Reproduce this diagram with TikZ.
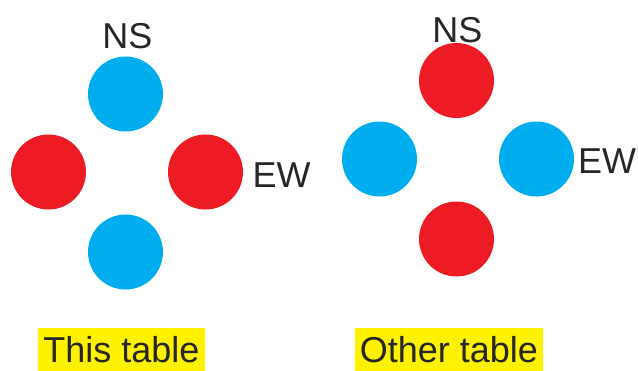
\documentclass[tikz,border=0pt]{standalone}
\usepackage{fontspec}
\setmainfont{Liberation Sans}
\usepackage{tikz}
\definecolor{dotred}{HTML}{ED1C24}
\definecolor{dotblue}{HTML}{00AEEF}
\definecolor{tagyellow}{HTML}{FFF200}
\tikzset{
  seat/.style={circle, inner sep=0pt, minimum size=75pt},
  lbl/.style={inner sep=0pt, anchor=base, text=black!85, font=\fontsize{36}{40}\selectfont},
  tag/.style={lbl, fill=tagyellow, inner xsep=5pt, inner ysep=8.5pt, text height=26pt, text depth=0pt}
}

\begin{document}
\begin{tikzpicture}[x=1pt, y=-1pt]
\useasboundingbox (0,0) rectangle (638,370);
% this table
\node[seat, fill=dotblue] (n1) at (125.5,94) {};
\node[seat, fill=dotred]  (w1) at (48.5,172) {};
\node[seat, fill=dotred]  (e1) at (205.5,172) {};
\node[seat, fill=dotblue] (s1) at (125.5,252) {};
\node[lbl] (ns1) at (127.5,48) {NS};
\node[lbl] (ew1) at (281.5,187) {EW};
\node[tag] (this) at (121.5,362) {This table};
% other table
\node[seat, fill=dotred]  (n2) at (456.5,80.5) {};
\node[seat, fill=dotblue] (w2) at (379.5,159) {};
\node[seat, fill=dotblue] (e2) at (536.5,159) {};
\node[seat, fill=dotred]  (s2) at (456.5,239) {};
\node[lbl] (ns2) at (457.5,42) {NS};
\node[lbl] (ew2) at (607,173) {EW};
\node[tag] (other) at (449,362) {Other table};
\end{tikzpicture}
\end{document}
